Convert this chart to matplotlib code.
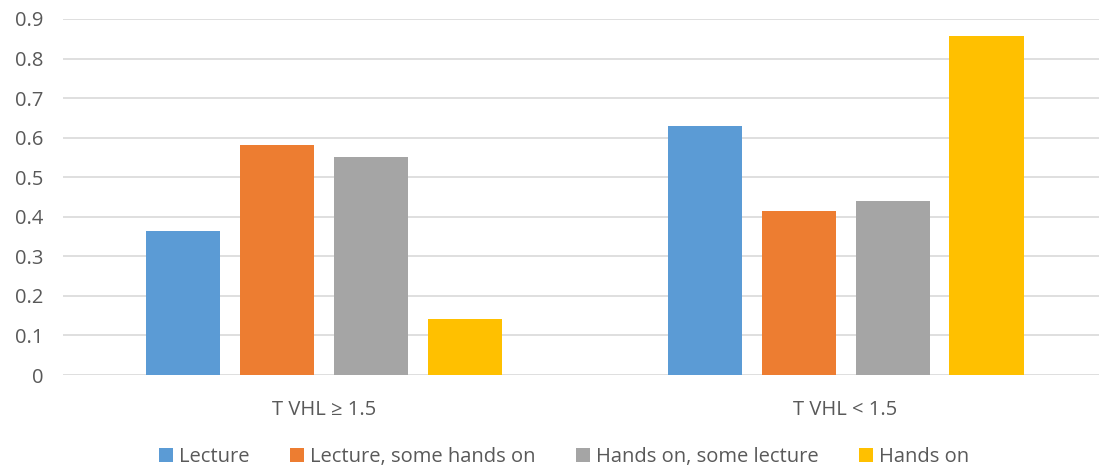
import matplotlib
matplotlib.use("Agg")
import matplotlib.pyplot as plt
import numpy as np

# dados por grupo de TVHL
categorias = ["T VHL \u2265 1.5", "T VHL < 1.5"]
series = ["Lecture", "Lecture, some hands on", "Hands on, some lecture", "Hands on"]
lecture = [0.364, 0.629]
lecture_some_hands = [0.581, 0.414]
hands_some_lecture = [0.551, 0.439]
hands_on = [0.141, 0.856]
cores = ["#5B9BD5", "#ED7D31", "#A5A5A5", "#FFC000"]

plt.rcParams['font.family'] = ['Open Sans', 'DejaVu Sans']
texto = "#595959"

fig = plt.figure(figsize=(10.99, 4.69), dpi=100)
ax = fig.add_axes([0.0573, 0.2004, 1.0068 - 0.0573, 0.7591])

x = np.arange(len(categorias))
largura = 0.142
passo = 0.180
valores = [lecture, lecture_some_hands, hands_some_lecture, hands_on]
for i, (nome, v, c) in enumerate(zip(series, valores, cores)):
    ax.bar(x + (i - 1.5) * passo, v, largura, color=c, label=nome, zorder=3)

ax.set_xlim(-0.5, 1.5)
ax.set_ylim(0, 0.9)
ax.set_yticks(np.arange(0, 0.91, 0.1))
ax.set_yticklabels(["0"] + [f"{t:.1f}" for t in np.arange(0.1, 0.91, 0.1)])
ax.set_xticks(x)
ax.set_xticklabels(categorias)
ax.grid(axis='y', color="#D9D9D9", linewidth=1.2, zorder=0)
for s in ax.spines.values():
    s.set_visible(False)
ax.tick_params(axis='both', length=0, colors=texto, labelsize=14.5)
ax.tick_params(axis='y', pad=14)
ax.tick_params(axis='x', pad=18)

fig.legend(loc='lower center', bbox_to_anchor=(0.513, -0.035), ncol=4, frameon=False,
           handlelength=0.7, handleheight=0.7, handletextpad=0.3,
           columnspacing=2.0, fontsize=14.5, labelcolor=texto)

fig.savefig("out.png", dpi=100)
